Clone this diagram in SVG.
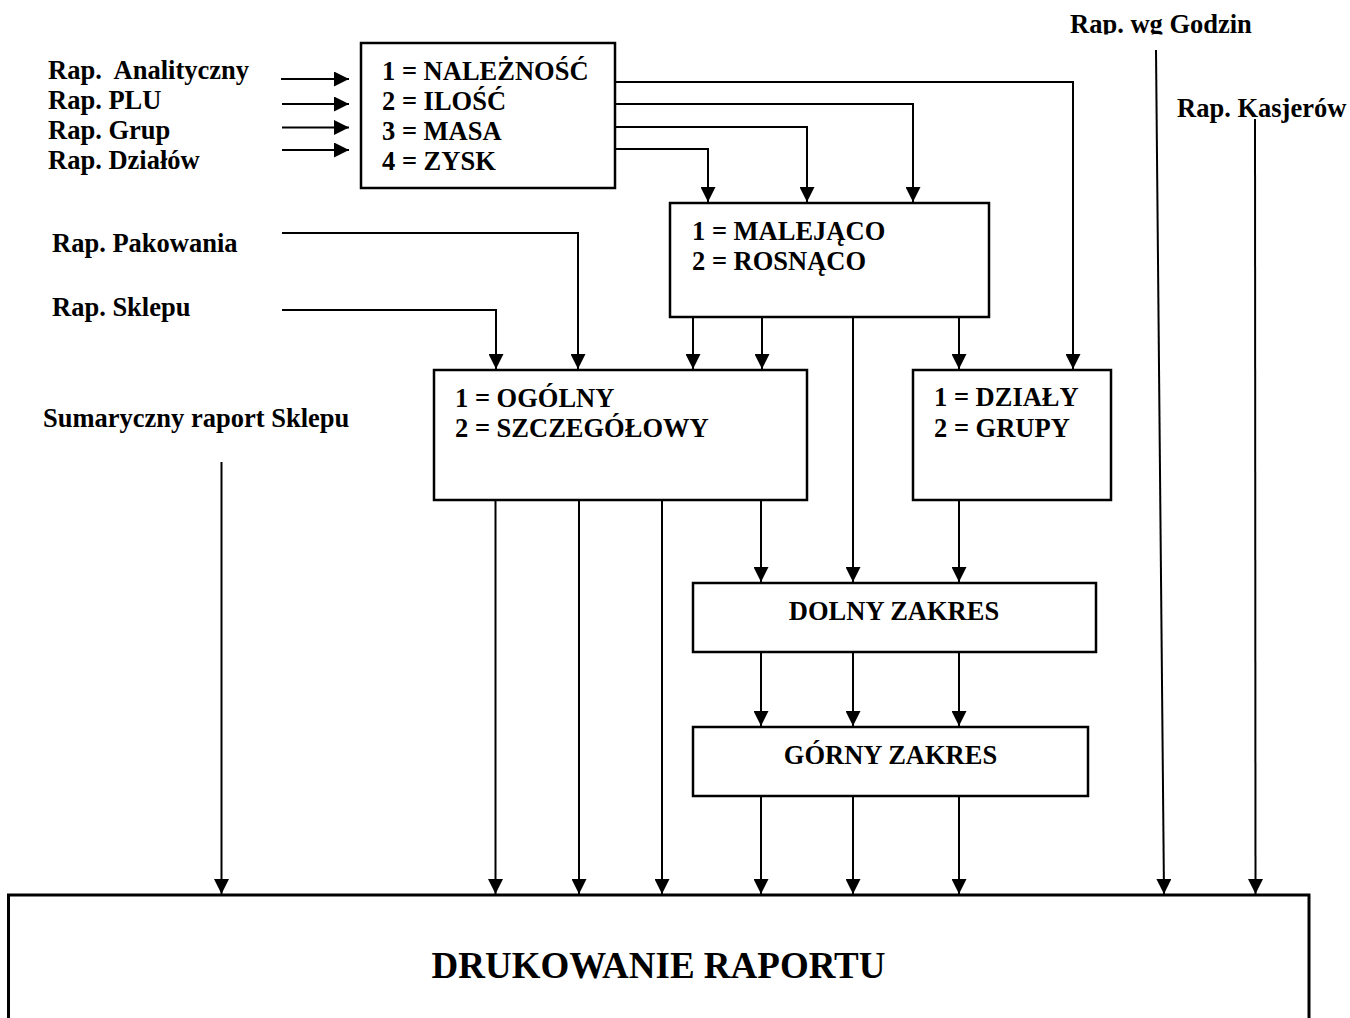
<svg xmlns="http://www.w3.org/2000/svg" width="1350" height="1018" viewBox="0 0 1350 1018">
<style>
text { font-family: "Liberation Serif", "Times New Roman", serif; font-weight: bold; font-size: 26.5px; fill: #000; white-space: pre; }
.big { font-size: 37px; }
.mid { text-anchor: middle; }
.box { fill: #fff; stroke: #000; stroke-width: 2.5; }
.bottom { fill: #fff; stroke: #000; stroke-width: 3; }
#connectors path { fill: none; stroke: #000; stroke-width: 2; }
</style>
<defs>
<marker id="arr" markerUnits="userSpaceOnUse" markerWidth="16" markerHeight="15" refX="15" refY="7.5" orient="auto">
<path d="M0,0 L15,7.5 L0,15 z" fill="#000"/>
</marker>
<clipPath id="clipTop"><rect x="1000" y="0" width="350" height="34.5"/></clipPath>
</defs>
<rect x="0" y="0" width="1350" height="1018" fill="#fff"/>

<g id="labels">
<text x="48" y="79">Rap.  Analityczny</text>
<text x="48" y="109">Rap. PLU</text>
<text x="48" y="139">Rap. Grup</text>
<text x="48" y="169">Rap. Działów</text>
<text x="52" y="252">Rap. Pakowania</text>
<text x="52" y="315.5">Rap. Sklepu</text>
<text x="43" y="427">Sumaryczny raport Sklepu</text>
<text x="1070" y="32.5" clip-path="url(#clipTop)">Rap. wg Godzin</text>
<text x="1177" y="117">Rap. Kasjerów</text>
</g>

<g id="node-kryterium">
<rect class="box" x="361" y="43" width="254" height="145"/>
<text x="382" y="80">1 = NALEŻNOŚĆ</text>
<text x="382" y="110">2 = ILOŚĆ</text>
<text x="382" y="140">3 = MASA</text>
<text x="382" y="170">4 = ZYSK</text>
</g>

<g id="node-kolejnosc">
<rect class="box" x="670" y="203" width="319" height="114"/>
<text x="692" y="240">1 = MALEJĄCO</text>
<text x="692" y="269.5">2 = ROSNĄCO</text>
</g>

<g id="node-rodzaj">
<rect class="box" x="434" y="370" width="373" height="130"/>
<text x="455" y="407">1 = OGÓLNY</text>
<text x="455" y="437">2 = SZCZEGÓŁOWY</text>
</g>

<g id="node-dzialy">
<rect class="box" x="913" y="370" width="198" height="130"/>
<text x="934" y="406">1 = DZIAŁY</text>
<text x="934" y="436.5">2 = GRUPY</text>
</g>

<g id="node-dolny">
<rect class="box" x="693" y="583" width="403" height="69"/>
<text class="mid" x="894" y="620">DOLNY ZAKRES</text>
</g>

<g id="node-gorny">
<rect class="box" x="693" y="727" width="395" height="69"/>
<text class="mid" x="890.5" y="764">GÓRNY ZAKRES</text>
</g>

<g id="node-drukowanie">
<rect class="bottom" x="8.5" y="895" width="1300.5" height="200"/>
<text class="big mid" x="658.5" y="978">DRUKOWANIE RAPORTU</text>
</g>

<g id="connectors">
<path d="M281,79 H349" marker-end="url(#arr)"/>
<path d="M282,104 H349" marker-end="url(#arr)"/>
<path d="M282,127.5 H349" marker-end="url(#arr)"/>
<path d="M282,150 H349" marker-end="url(#arr)"/>

<path d="M616,82 H1073 V369" marker-end="url(#arr)"/>
<path d="M616,104 H913 V202" marker-end="url(#arr)"/>
<path d="M616,127 H807 V202" marker-end="url(#arr)"/>
<path d="M616,149 H708 V202" marker-end="url(#arr)"/>

<path d="M282,233 H578 V369" marker-end="url(#arr)"/>
<path d="M282,310 H496 V369" marker-end="url(#arr)"/>

<path d="M693,317 V369" marker-end="url(#arr)"/>
<path d="M762,317 V369" marker-end="url(#arr)"/>
<path d="M853,317 V582" marker-end="url(#arr)"/>
<path d="M959,317 V369" marker-end="url(#arr)"/>

<path d="M221.5,462 V894" marker-end="url(#arr)"/>

<path d="M495.5,500 V894" marker-end="url(#arr)"/>
<path d="M579,500 V894" marker-end="url(#arr)"/>
<path d="M662,500 V894" marker-end="url(#arr)"/>
<path d="M761,500 V582" marker-end="url(#arr)"/>
<path d="M959,500 V582" marker-end="url(#arr)"/>

<path d="M761,652 V726" marker-end="url(#arr)"/>
<path d="M853,652 V726" marker-end="url(#arr)"/>
<path d="M959,652 V726" marker-end="url(#arr)"/>

<path d="M761,796 V894" marker-end="url(#arr)"/>
<path d="M853,796 V894" marker-end="url(#arr)"/>
<path d="M959,796 V894" marker-end="url(#arr)"/>

<path d="M1156,50 L1164,894" marker-end="url(#arr)"/>
<path d="M1255,119 L1255.5,894" marker-end="url(#arr)"/>
</g>
</svg>
